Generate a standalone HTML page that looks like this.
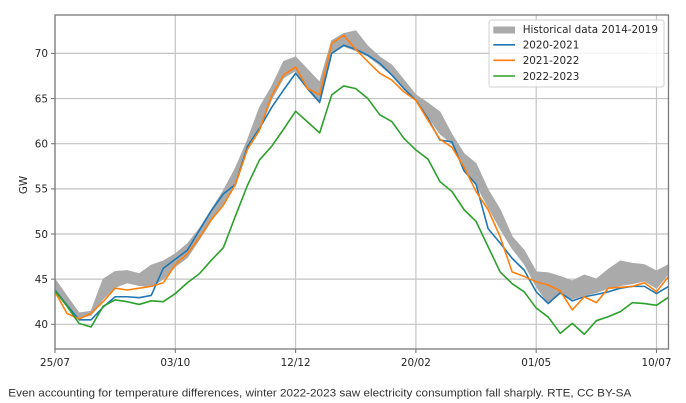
<!DOCTYPE html>
<html><head><meta charset="utf-8"><style>
html,body{margin:0;padding:0;background:#fff;}
svg{display:block;}
</style></head><body>
<svg width="686" height="403" viewBox="0 0 686 403" xmlns="http://www.w3.org/2000/svg">
<defs><clipPath id="ax"><rect x="55" y="15" width="613.5" height="334"/></clipPath></defs>
<rect width="686" height="403" fill="#fff"/>
<!-- grid -->
<g stroke="#c4c4c4" stroke-width="1.2">
<line x1="55" y1="15" x2="55" y2="349"/><line x1="175.3" y1="15" x2="175.3" y2="349"/><line x1="295.6" y1="15" x2="295.6" y2="349"/><line x1="415.9" y1="15" x2="415.9" y2="349"/><line x1="536.2" y1="15" x2="536.2" y2="349"/><line x1="656.5" y1="15" x2="656.5" y2="349"/>
<line x1="55" y1="324.3" x2="668.5" y2="324.3"/><line x1="55" y1="279.15" x2="668.5" y2="279.15"/><line x1="55" y1="234" x2="668.5" y2="234"/><line x1="55" y1="188.85" x2="668.5" y2="188.85"/><line x1="55" y1="143.7" x2="668.5" y2="143.7"/><line x1="55" y1="98.55" x2="668.5" y2="98.55"/><line x1="55" y1="53.4" x2="668.5" y2="53.4"/>
</g>
<g clip-path="url(#ax)">
<g transform="translate(55,685.5) scale(12.03,-9.03)">
<polygon fill="#aaaaaa" stroke="#aaaaaa" stroke-width="1" vector-effect="non-scaling-stroke" points="0,45.0 1,43.1 2,41.25 3,41.45 4,45.0 5,45.85 6,45.95 7,45.6 8,46.55 9,47.0 10,47.8 11,48.9 12,50.6 13,52.7 14,54.8 15,57.3 16,60.4 17,64.0 18,66.3 19,69.1 20,69.6 21,68.2 22,66.8 23,71.4 24,72.2 25,72.5 26,70.8 27,69.6 28,68.7 29,67.05 30,65.4 31,64.5 32,63.5 33,61.0 34,58.9 35,57.8 36,54.9 37,52.7 38,49.7 39,48.2 40,45.8 41,45.7 42,45.3 43,44.8 44,45.45 45,45.0 46,46.1 47,47.0 48,46.75 49,46.6 50,45.9 51,46.6 51,45.6 50,44.0 49,44.8 48,44.5 47,44.3 46,44.0 45,43.5 44,43.2 43,42.8 42,43.4 41,42.3 40,44.2 39,46.7 38,48.4 37,50.6 36,53.0 35,55.5 34,57.2 33,60.0 32,61.1 31,63.0 30,65.0 29,66.1 28,67.6 27,68.7 26,69.7 25,70.3 24,70.8 23,70.0 22,64.5 21,66.0 20,68.1 19,67.3 18,64.9 17,61.5 16,59.3 15,55.4 14,53.4 13,51.5 12,49.4 11,47.4 10,46.4 9,45.0 8,44.2 7,44.3 6,44.6 5,44.1 4,42.8 3,41.0 2,40.7 1,42.2 0,43.8"/>
<polyline fill="none" stroke="#1f77b4" stroke-width="1.6" stroke-linejoin="round" vector-effect="non-scaling-stroke" points="0,43.8 1,42.1 2,40.5 3,40.5 4,41.9 5,43.05 6,43.05 7,42.95 8,43.2 9,46.2 10,47.2 11,48.2 12,50.4 13,52.6 14,54.45 15,55.5 16,59.7 17,61.7 18,64.0 19,65.95 20,67.8 21,66.1 22,64.6 23,70.0 24,70.9 25,70.45 26,69.8 27,68.9 28,67.6 29,66.1 30,64.8 31,62.8 32,60.4 33,60.2 34,57.0 35,55.5 36,50.6 37,49.0 38,47.3 39,46.0 40,43.6 41,42.3 42,43.5 43,42.6 44,43.05 45,43.3 46,43.6 47,44.0 48,44.2 49,44.2 50,43.4 51,44.2"/>
<polyline fill="none" stroke="#ff7f0e" stroke-width="1.6" stroke-linejoin="round" vector-effect="non-scaling-stroke" points="0,43.6 1,41.2 2,40.6 3,41.2 4,42.5 5,44.0 6,43.8 7,44.0 8,44.2 9,44.6 10,46.6 11,47.8 12,49.6 13,51.6 14,53.2 15,55.5 16,59.4 17,61.5 18,65.3 19,67.6 20,68.5 21,66.1 22,65.4 23,71.1 24,72.0 25,70.45 26,69.1 27,67.8 28,67.05 29,65.75 30,64.8 31,62.6 32,60.5 33,59.6 34,57.4 35,54.7 36,52.7 37,49.7 38,45.8 39,45.3 40,44.7 41,44.35 42,43.7 43,41.6 44,43.05 45,42.4 46,44.0 47,44.1 48,44.2 49,44.6 50,43.6 51,45.3"/>
<polyline fill="none" stroke="#2ca02c" stroke-width="1.6" stroke-linejoin="round" vector-effect="non-scaling-stroke" points="0,43.7 1,42.0 2,40.1 3,39.7 4,42.0 5,42.7 6,42.5 7,42.2 8,42.6 9,42.5 10,43.4 11,44.6 12,45.6 13,47.1 14,48.5 15,52.0 16,55.4 17,58.2 18,59.7 19,61.6 20,63.6 21,62.4 22,61.2 23,65.4 24,66.4 25,66.1 26,65.0 27,63.2 28,62.45 29,60.6 30,59.3 31,58.3 32,55.8 33,54.7 34,52.7 35,51.4 36,48.6 37,45.8 38,44.5 39,43.6 40,41.8 41,40.8 42,39.0 43,40.1 44,38.9 45,40.4 46,40.85 47,41.4 48,42.4 49,42.3 50,42.1 51,43.0"/>
</g>
</g>
<!-- spines -->
<rect x="55" y="15" width="613.5" height="334" fill="none" stroke="#7a7a7a" stroke-width="1.3"/>
<!-- ticks -->
<g stroke="#7a7a7a" stroke-width="1.1">
<line x1="51" y1="324.3" x2="55" y2="324.3"/><line x1="51" y1="279.15" x2="55" y2="279.15"/><line x1="51" y1="234" x2="55" y2="234"/><line x1="51" y1="188.85" x2="55" y2="188.85"/><line x1="51" y1="143.7" x2="55" y2="143.7"/><line x1="51" y1="98.55" x2="55" y2="98.55"/><line x1="51" y1="53.4" x2="55" y2="53.4"/>
<line x1="55" y1="349" x2="55" y2="353"/><line x1="175.3" y1="349" x2="175.3" y2="353"/><line x1="295.6" y1="349" x2="295.6" y2="353"/><line x1="415.9" y1="349" x2="415.9" y2="353"/><line x1="536.2" y1="349" x2="536.2" y2="353"/><line x1="656.5" y1="349" x2="656.5" y2="353"/>
</g>
<g font-family="'DejaVu Sans', 'Liberation Sans', sans-serif" font-size="10.4" fill="#262626">
<g text-anchor="end">
<text x="48" y="328.1">40</text><text x="48" y="282.95">45</text><text x="48" y="237.8">50</text><text x="48" y="192.65">55</text><text x="48" y="147.5">60</text><text x="48" y="102.35">65</text><text x="48" y="57.2">70</text>
</g>
<g text-anchor="middle">
<text x="55" y="366">25/07</text><text x="175.3" y="366">03/10</text><text x="295.6" y="366">12/12</text><text x="415.9" y="366">20/02</text><text x="536.2" y="366">01/05</text><text x="656.5" y="366">10/07</text>
</g>
<text transform="translate(27,185) rotate(-90)" text-anchor="middle">GW</text>
</g>
<!-- legend -->
<rect x="489" y="20" width="175" height="67" rx="2.5" fill="#fff" fill-opacity="0.85" stroke="#d0d0d0" stroke-width="1"/>
<rect x="493.3" y="26.5" width="21.7" height="7" fill="#aaaaaa"/>
<line x1="493.3" y1="44.8" x2="515" y2="44.8" stroke="#1f77b4" stroke-width="1.6"/>
<line x1="493.3" y1="60.3" x2="515" y2="60.3" stroke="#ff7f0e" stroke-width="1.6"/>
<line x1="493.3" y1="76" x2="515" y2="76" stroke="#2ca02c" stroke-width="1.6"/>
<g font-family="'DejaVu Sans', 'Liberation Sans', sans-serif" font-size="10.4" fill="#262626">
<text x="522.7" y="33">Historical data 2014-2019</text>
<text x="522.7" y="48.5">2020-2021</text>
<text x="522.7" y="64">2021-2022</text>
<text x="522.7" y="79.8">2022-2023</text>
</g>
<!-- caption -->
<text x="8.3" y="396.6" font-family="'Liberation Sans', Arial, sans-serif" font-size="11.2" fill="#333" textLength="623" lengthAdjust="spacingAndGlyphs">Even accounting for temperature differences, winter 2022-2023 saw electricity consumption fall sharply. RTE, CC BY-SA</text>
</svg>
</body></html>
